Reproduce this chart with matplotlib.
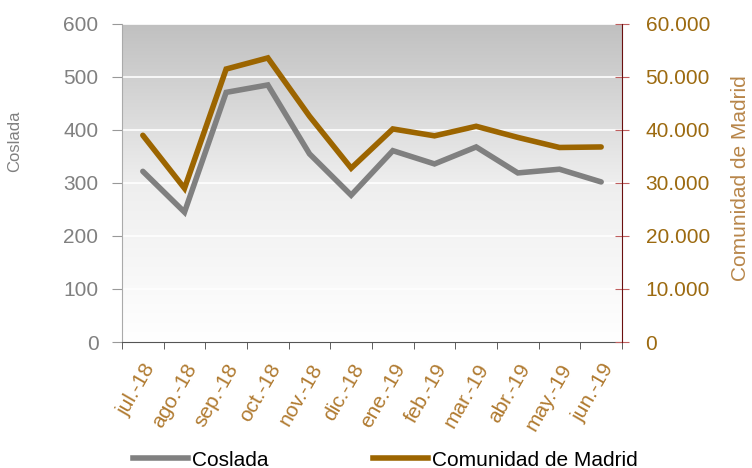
import matplotlib
matplotlib.use("Agg")
import matplotlib.pyplot as plt
import numpy as np
from matplotlib.lines import Line2D
from matplotlib.colors import LinearSegmentedColormap

plt.rcParams['font.family'] = ['Liberation Sans', 'DejaVu Sans']

months = ['jul.-18', 'ago.-18', 'sep.-18', 'oct.-18', 'nov.-18', 'dic.-18',
          'ene.-19', 'feb.-19', 'mar.-19', 'abr.-19', 'may.-19', 'jun.-19']
coslada = [322, 245, 471, 485, 355, 277, 361, 336, 368, 319, 326, 302]
madrid = [39000, 29000, 51500, 53600, 42600, 32800, 40200, 38900, 40700, 38600, 36700, 36800]
left_ticks = [0, 100, 200, 300, 400, 500, 600]
right_ticks = [0, 10000, 20000, 30000, 40000, 50000, 60000]
right_labels = ['0', '10.000', '20.000', '30.000', '40.000', '50.000', '60.000']

gray = '#808080'
brown = '#9C6500'
xlab_col = '#B07A30'
rlab_col = '#9C6A10'

fig = plt.figure(figsize=(7.52, 4.68), dpi=100)
ax = fig.add_axes([122/752, 1-342/468, 500/752, 318/468])

grad = np.linspace(0, 1, 256).reshape(-1, 1)
cmap = LinearSegmentedColormap.from_list('bg', ['#FFFFFF', '#EEEEEE', '#C0C0C0'])
ax.imshow(grad, cmap=cmap, aspect='auto', extent=[0, 1, 0, 1], origin='lower',
          transform=ax.transAxes, zorder=0)

x = np.arange(len(months))
ax.set_xlim(-0.5, len(months) - 0.5)
ax.set_ylim(0, 600)
for t in left_ticks[1:]:
    ax.axhline(t, color='white', lw=1.2, zorder=1)

ax.plot(x, coslada, color=gray, lw=4, zorder=3, solid_capstyle='round', solid_joinstyle='miter')

ax2 = ax.twinx()
ax2.set_ylim(0, 60000)
ax2.plot(x, madrid, color=brown, lw=4, zorder=3, solid_capstyle='round', solid_joinstyle='miter')

ax.set_yticks(left_ticks)
ax.tick_params(axis='y', colors='#999999', labelcolor=gray, labelsize=15, length=7, direction='out', pad=10)

ax.set_xticks(x)
ax.set_xticklabels(months, rotation=60, ha='right', rotation_mode='anchor', color=xlab_col, fontsize=15)
ax.tick_params(axis='x', length=0, pad=13)
ax.set_xticks(np.arange(-0.5, len(months)), minor=True)
ax.tick_params(axis='x', which='minor', length=5, color='#444444', direction='out')

ax2.set_yticks(right_ticks)
ax2.set_yticklabels(right_labels)
ax2.tick_params(axis='y', colors='#C06060', labelcolor=rlab_col, labelsize=15, length=10, direction='inout', pad=12)

fig.text(15/752, 1-141/468, 'Coslada', color=gray, fontsize=12, rotation=90, ha='center', va='center')
fig.text(740/752, 1-178/468, 'Comunidad de Madrid', color='#B8864A', fontsize=15, rotation=90, ha='center', va='center')

ax.spines['top'].set_visible(False)
ax2.spines['top'].set_visible(False)
ax.spines['left'].set_color('#AAAAAA')
ax.spines['bottom'].set_color('#555555')
ax2.spines['right'].set_color('#6B0F0F')
ax2.spines['left'].set_visible(False)
ax2.spines['bottom'].set_visible(False)
ax.spines['right'].set_visible(False)

handles = [Line2D([0], [0], color=gray, lw=4), Line2D([0], [0], color=brown, lw=4)]
fig.legend(handles, ['Coslada', 'Comunidad de Madrid'], loc='center left',
           bbox_to_anchor=(133/752, 1-460/468), ncol=2, frameon=False, fontsize=15,
           handlelength=2.65, handletextpad=0.2, columnspacing=5.0,
           borderpad=0, borderaxespad=0)

fig.savefig('out.png', dpi=100)
